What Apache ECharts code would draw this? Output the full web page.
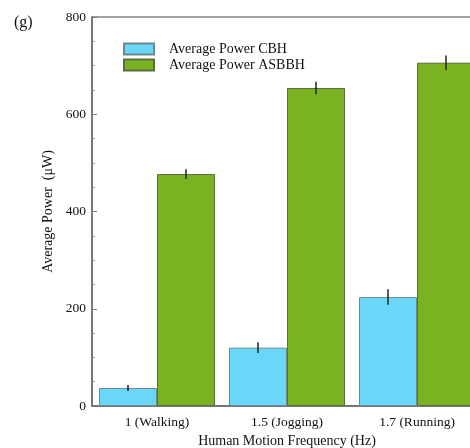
<!DOCTYPE html>
<html>
<head>
<meta charset="utf-8">
<script src="https://cdn.jsdelivr.net/npm/echarts@6/dist/echarts.min.js"></script>
<style>
  html, body { margin: 0; padding: 0; background: #fff; }
  #chart { width: 470px; height: 448px; }
</style>
</head>
<body>
<div id="chart"></div>
<script>
// data
const categories = ["1 (Walking)", "1.5 (Jogging)", "1.7 (Running)"];
const cbhPower = [37, 120, 224];
const cbhError = [6, 11, 16];
const asbbhPower = [477, 654, 706];
const asbbhError = [10, 13, 15];
const yTicks = [0, 200, 400, 600, 800];

const FONT = "Liberation Serif";
const BAR_W = 58;

// error bar drawn at the centre of a bar, offset from the category centre
function errorBars(values, errors, side) {
  return {
    type: "custom",
    silent: true,
    z: 5,
    clip: false,
    data: values.map((v, i) => [i, v, errors[i]]),
    renderItem: function (params, api) {
      const i = api.value(0);
      const hi = api.coord([i, api.value(1) + api.value(2)]);
      const lo = api.coord([i, api.value(1) - api.value(2)]);
      const x = hi[0] + side * BAR_W / 2;
      return {
        type: "line",
        shape: { x1: x, y1: hi[1], x2: x, y2: lo[1] },
        style: { stroke: "#222", lineWidth: 1.5 }
      };
    }
  };
}

const chart = echarts.init(document.getElementById("chart"));
chart.setOption({
  animation: false,
  title: {
    text: "(g)",
    left: 9,
    top: 10,
    textStyle: { fontFamily: FONT, fontSize: 16, fontWeight: "normal", color: "#111" }
  },
  legend: {
    data: ["Average Power CBH", "Average Power ASBBH"],
    orient: "vertical",
    left: 123,
    top: 42,
    padding: 0,
    itemWidth: 30,
    itemHeight: 11,
    itemGap: 2,
    icon: "rect",
    textStyle: { fontFamily: FONT, fontSize: 14, color: "#111", padding: [0, 0, 0, 10] }
  },
  grid: {
    left: 92,
    top: 17,
    width: 390,
    height: 389,
    outerBoundsMode: "none",
    containLabel: false,
    show: true,
    borderColor: "#444",
    borderWidth: 1
  },
  xAxis: {
    type: "category",
    data: categories,
    name: "Human Motion Frequency (Hz)",
    nameLocation: "middle",
    nameGap: 27,
    nameTextStyle: { fontFamily: FONT, fontSize: 14, color: "#111" },
    axisLine: { lineStyle: { color: "#777", width: 2 } },
    axisTick: { show: false },
    axisLabel: { fontFamily: FONT, fontSize: 13.5, color: "#111", margin: 9 }
  },
  yAxis: {
    type: "value",
    min: yTicks[0],
    max: yTicks[yTicks.length - 1],
    interval: 200,
    name: "Average Power  (\u03bcW)",
    nameLocation: "middle",
    nameGap: 34,
    nameTextStyle: { fontFamily: FONT, fontSize: 14, color: "#111" },
    axisLine: { show: true, lineStyle: { color: "#777", width: 2 } },
    axisTick: { show: true, inside: true, length: 5, lineStyle: { color: "#777" } },
    minorTick: { show: true, splitNumber: 4, length: 3, lineStyle: { color: "#999" } },
    splitLine: { show: false },
    axisLabel: { fontFamily: FONT, fontSize: 13.5, color: "#111", margin: 6 }
  },
  series: [
    {
      name: "Average Power CBH",
      type: "bar",
      data: cbhPower,
      barWidth: BAR_W,
      barGap: "0%",
      itemStyle: { color: "#6ad6f8", borderColor: "#6f8790", borderWidth: 1 }
    },
    {
      name: "Average Power ASBBH",
      type: "bar",
      data: asbbhPower,
      barWidth: BAR_W,
      barGap: "0%",
      itemStyle: { color: "#7ab222", borderColor: "#5a6e40", borderWidth: 1 }
    },
    errorBars(cbhPower, cbhError, -1),
    errorBars(asbbhPower, asbbhError, 1)
  ]
});
</script>
</body>
</html>
